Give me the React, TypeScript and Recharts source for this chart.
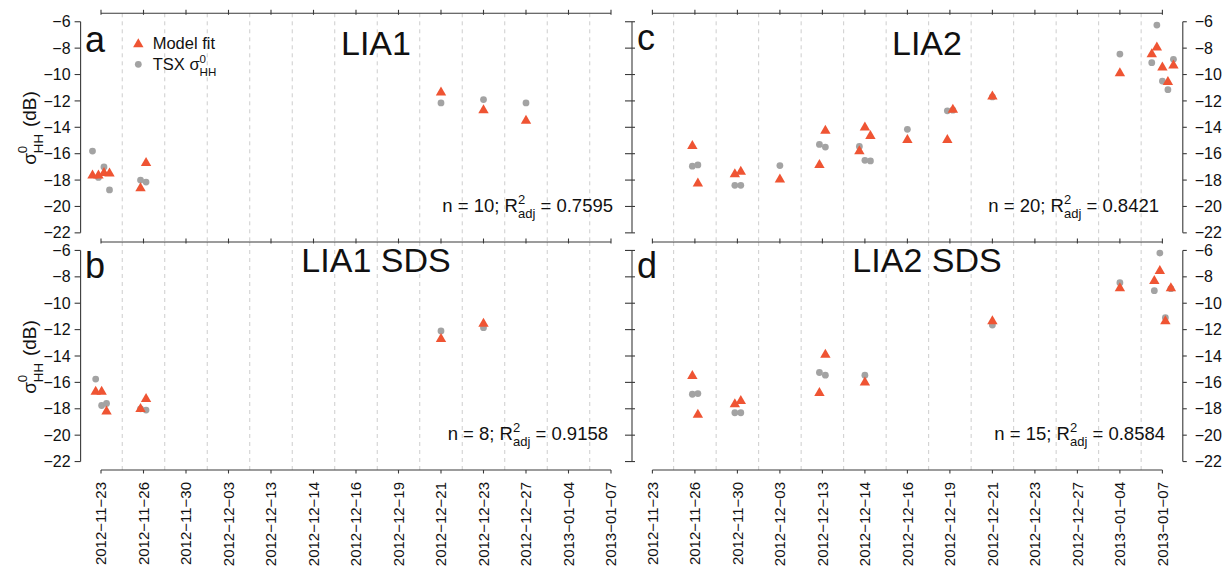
import { ReferenceLine, Scatter, ScatterChart, XAxis, YAxis } from "recharts";

const dates = [
  "2012-11-23",
  "2012-11-26",
  "2012-11-30",
  "2012-12-03",
  "2012-12-13",
  "2012-12-14",
  "2012-12-16",
  "2012-12-19",
  "2012-12-21",
  "2012-12-23",
  "2012-12-27",
  "2013-01-04",
  "2013-01-07",
];
const yTicks = [-6, -8, -10, -12, -14, -16, -18, -20, -22];

// position on the date axis = date index + offset for several scenes on one day
const lia1Pos = [-0.2, -0.06, 0.07, 0.2, 0.93, 1.06, 8, 9, 10];
const lia1Model = [-17.6, -17.6, -17.4, -17.45, -18.55, -16.65, -11.3, -12.65, -13.45];
const lia1Tsx = [-15.8, -17.8, -17.0, -18.75, -18.0, -18.15, -12.15, -11.9, -12.15];

const lia1SdsPos = [-0.125, 0.015, 0.13, 0.93, 1.06, 8, 9];
const lia1SdsModel = [-16.65, -16.65, -18.15, -17.95, -17.2, -12.65, -11.5];
const lia1SdsTsx = [-15.75, -17.75, -17.6, -18.0, -18.1, -12.1, -11.85];

const lia2Pos = [0.94, 1.07, 1.94, 2.08, 3, 3.93, 4.07, 4.87, 5, 5.13, 6, 6.94, 7.07, 8, 11, 11.75, 11.87, 12, 12.13, 12.26];
const lia2Model = [-15.35, -18.2, -17.5, -17.3, -17.9, -16.8, -14.2, -15.75, -13.95, -14.6, -14.9, -14.9, -12.6, -11.6, -9.85, -8.4, -7.9, -9.4, -10.5, -9.25];
const lia2Tsx = [-16.95, -16.85, -18.4, -18.4, -16.9, -15.3, -15.5, -15.45, -16.5, -16.55, -14.15, -12.75, -12.7, -11.7, -8.45, -9.1, -6.25, -10.5, -11.15, -8.85];

const lia2SdsPos = [0.94, 1.07, 1.94, 2.08, 3.93, 4.07, 5, 8, 11, 11.81, 11.94, 12.07, 12.2];
const lia2SdsModel = [-15.45, -18.4, -17.6, -17.35, -16.75, -13.85, -15.95, -11.3, -8.8, -8.25, -7.5, -11.3, -8.8];
const lia2SdsTsx = [-16.9, -16.85, -18.3, -18.3, -15.25, -15.45, -15.45, -11.65, -8.45, -9.05, -6.2, -11.1, -8.9];

const X_MIN = -0.48;
const X_MAX = 12.48;
const Y_MIN = -22.64;
const Y_MAX = -5.36;
const PLOT_W = 550.8;
const PLOT_H = 228;

const FONT = '"Liberation Sans", Arial, Helvetica, sans-serif';
const AXIS = "#3a3a3a";
const RED = "#EF5433";
const GREY = "#A3A3A3";

const dateIdx = dates.map((_, i) => i);
const gridBreaks = dates.slice(1).map((_, i) => i + 0.5);
const minus = (s: string) => s.replace(/-/g, "\u2212");

const Triangle = (p: any) => (
  <polygon
    points={`${p.cx},${p.cy - 5.2} ${p.cx - 5.2},${p.cy + 3.8} ${p.cx + 5.2},${p.cy + 3.8}`}
    fill={RED}
  />
);
const Dot = (p: any) => <circle cx={p.cx} cy={p.cy} r={3.4} fill={GREY} />;
const Nothing = () => <g />;

const topTick = (p: any) => (
  <line x1={p.x} x2={p.x} y1={p.y - 3.5} y2={p.y + 1.5} stroke={AXIS} strokeWidth={1.1} />
);

const bottomTick = (p: any) => (
  <g>
    <line x1={p.x} x2={p.x} y1={p.y} y2={p.y + 3.5} stroke={AXIS} strokeWidth={1.1} />
    <text
      transform={`translate(${p.x},${p.y + 12}) rotate(-90)`}
      textAnchor="end"
      dy="0.35em"
      fontSize={15}
      fontFamily={FONT}
      fill="#111"
    >
      {minus(dates[p.payload.value])}
    </text>
  </g>
);

const leftLabelTick = (p: any) => (
  <g>
    <line x1={p.x - 6} x2={p.x} y1={p.y} y2={p.y} stroke={AXIS} strokeWidth={1.1} />
    <text x={p.x - 10} y={p.y} dy="0.35em" textAnchor="end" fontSize={16} fontFamily={FONT} fill="#111">
      {minus(String(p.payload.value))}
    </text>
  </g>
);

const leftBareTick = (p: any) => (
  <line x1={p.x - 7} x2={p.x + 3} y1={p.y} y2={p.y} stroke={AXIS} strokeWidth={1.1} />
);

const rightTick = (p: any) => (
  <g>
    <line x1={p.x} x2={p.x + 4} y1={p.y} y2={p.y} stroke={AXIS} strokeWidth={1.1} />
    <text x={p.x + 12} y={p.y} dy="0.35em" textAnchor="start" fontSize={16} fontFamily={FONT} fill="#111">
      {minus(String(p.payload.value))}
    </text>
  </g>
);

type PanelProps = {
  col: 0 | 1;
  row: 0 | 1;
  pos: number[];
  model: number[];
  tsx: number[];
};

function Panel({ col, row, pos, model, tsx }: PanelProps) {
  const leftW = col === 0 ? 80.6 : 12;
  const rightW = col === 0 ? 0 : 42.6;
  const topH = row === 0 ? 13.3 : 13;
  const bottomH = row === 0 ? 0 : 98;
  const width = leftW + PLOT_W + rightW;
  const height = topH + PLOT_H + bottomH;
  const left = col === 0 ? 0 : 619.6;
  const top = row === 0 ? 0 : 228.9;

  const modelPts = pos.map((x, i) => ({ x, y: model[i] }));
  const tsxPts = pos.map((x, i) => ({ x, y: tsx[i] }));
  const xFirst = dateIdx[0];
  const xLast = dateIdx[dateIdx.length - 1];
  const axisLine = { stroke: AXIS, strokeWidth: 1.1, ifOverflow: "visible" as const };

  return (
    <div style={{ position: "absolute", left, top, width, height }}>
      <ScatterChart width={width} height={height} margin={{ top: 0, right: 0, bottom: 0, left: 0 }}>
        <XAxis
          xAxisId="t"
          orientation="top"
          type="number"
          dataKey="x"
          domain={[X_MIN, X_MAX]}
          ticks={dateIdx}
          interval={0}
          height={topH}
          axisLine={false}
          tickLine={false}
          tickSize={0}
          tickMargin={0}
          tick={topTick}
        />
        {row === 1 && (
          <XAxis
            xAxisId="b"
            orientation="bottom"
            type="number"
            dataKey="x"
            domain={[X_MIN, X_MAX]}
            ticks={dateIdx}
            interval={0}
            height={bottomH}
            axisLine={false}
            tickLine={false}
            tickSize={0}
            tickMargin={0}
            tick={bottomTick}
          />
        )}
        <YAxis
          yAxisId="l"
          orientation="left"
          type="number"
          dataKey="y"
          domain={[Y_MIN, Y_MAX]}
          ticks={yTicks}
          interval={0}
          width={leftW}
          axisLine={false}
          tickLine={false}
          tickSize={0}
          tickMargin={0}
          tick={col === 0 ? leftLabelTick : leftBareTick}
        />
        {col === 1 && (
          <YAxis
            yAxisId="r"
            orientation="right"
            type="number"
            dataKey="y"
            domain={[Y_MIN, Y_MAX]}
            ticks={yTicks}
            interval={0}
            width={rightW}
            axisLine={false}
            tickLine={false}
            tickSize={0}
            tickMargin={0}
            tick={rightTick}
          />
        )}
        {gridBreaks.map((g) => (
          <ReferenceLine
            key={g}
            xAxisId="t"
            yAxisId="l"
            x={g}
            stroke="#cdcdcd"
            strokeDasharray="4 4"
            strokeWidth={1}
          />
        ))}
        <ReferenceLine
          xAxisId="t"
          yAxisId="l"
          segment={[{ x: xFirst, y: Y_MAX }, { x: xLast, y: Y_MAX }]}
          {...axisLine}
        />
        {row === 1 && (
          <ReferenceLine
            xAxisId="t"
            yAxisId="l"
            segment={[{ x: xFirst, y: Y_MIN }, { x: xLast, y: Y_MIN }]}
            {...axisLine}
          />
        )}
        <ReferenceLine
          xAxisId="t"
          yAxisId="l"
          segment={[{ x: X_MIN, y: yTicks[0] }, { x: X_MIN, y: yTicks[yTicks.length - 1] }]}
          {...axisLine}
        />
        {col === 1 && (
          <ReferenceLine
            xAxisId="t"
            yAxisId="l"
            segment={[{ x: X_MAX, y: yTicks[0] }, { x: X_MAX, y: yTicks[yTicks.length - 1] }]}
            {...axisLine}
          />
        )}
        {/* invisible series so the secondary axes get rendered */}
        <Scatter
          xAxisId={row === 1 ? "b" : "t"}
          yAxisId={col === 1 ? "r" : "l"}
          data={tsxPts}
          shape={Nothing}
          isAnimationActive={false}
        />
        <Scatter xAxisId="t" yAxisId="l" data={tsxPts} shape={Dot} isAnimationActive={false} />
        <Scatter xAxisId="t" yAxisId="l" data={modelPts} shape={Triangle} isAnimationActive={false} />
      </ScatterChart>
    </div>
  );
}

function SigmaHH({ size }: { size: number }) {
  const small = size * 0.7;
  return (
    <>
      <tspan>σ</tspan>
      <tspan dy={-size * 0.45} fontSize={small}>0</tspan>
      <tspan dx={-small * 0.556} dy={size * 0.8} fontSize={small}>HH</tspan>
      <tspan dy={-size * 0.35}>{"\u200A"}</tspan>
    </>
  );
}

function Stats({ x, y, n, r2 }: { x: number; y: number; n: number; r2: string }) {
  const size = 18.5;
  const small = 13;
  return (
    <text x={x} y={y} textAnchor="end" fontSize={size} fontFamily={FONT} fill="#111">
      <tspan>{`n = ${n}; R`}</tspan>
      <tspan dy={-8} fontSize={small}>2</tspan>
      <tspan dx={-small * 0.556} dy={14} fontSize={small}>adj</tspan>
      <tspan dy={-6}>{` = ${r2}`}</tspan>
    </text>
  );
}

function Overlay() {
  const big = { fontSize: 34, fontFamily: FONT, fill: "#111" };
  return (
    <svg
      width={1225}
      height={568}
      style={{ position: "absolute", left: 0, top: 0, pointerEvents: "none" }}
    >
      <text x={85} y={51.5} {...big} fontSize={36}>a</text>
      <text x={85} y={278} {...big} fontSize={36}>b</text>
      <text x={637} y={50} {...big} fontSize={36}>c</text>
      <text x={637} y={278} {...big} fontSize={36}>d</text>

      <text x={376} y={55} textAnchor="middle" {...big}>LIA1</text>
      <text x={376} y={272} textAnchor="middle" {...big}>LIA1 SDS</text>
      <text x={927} y={55} textAnchor="middle" {...big}>LIA2</text>
      <text x={927} y={272} textAnchor="middle" {...big}>LIA2 SDS</text>

      <Stats x={613} y={212} n={10} r2="0.7595" />
      <Stats x={608} y={440} n={8} r2="0.9158" />
      <Stats x={1159} y={212} n={20} r2="0.8421" />
      <Stats x={1165} y={440} n={15} r2="0.8584" />

      {[128, 357].map((cy) => (
        <text
          key={cy}
          transform={`translate(36,${cy}) rotate(-90)`}
          textAnchor="middle"
          fontSize={19}
          fontFamily={FONT}
          fill="#111"
        >
          <SigmaHH size={19} />
          <tspan> (dB)</tspan>
        </text>
      ))}

      <polygon points="138.3,38.3 133.1,47.3 143.5,47.3" fill={RED} />
      <text x={152.7} y={49} fontSize={16.5} fontFamily={FONT} fill="#111">Model fit</text>
      <circle cx={138.3} cy={64.3} r={3.4} fill={GREY} />
      <text x={152.7} y={70} fontSize={16.5} fontFamily={FONT} fill="#111">
        <tspan>TSX </tspan>
        <SigmaHH size={16.5} />
      </text>
    </svg>
  );
}

export default function App() {
  return (
    <div style={{ position: "absolute", left: 0, top: 0, width: 1225, height: 568, background: "#fff" }}>
      <Panel col={0} row={0} pos={lia1Pos} model={lia1Model} tsx={lia1Tsx} />
      <Panel col={0} row={1} pos={lia1SdsPos} model={lia1SdsModel} tsx={lia1SdsTsx} />
      <Panel col={1} row={0} pos={lia2Pos} model={lia2Model} tsx={lia2Tsx} />
      <Panel col={1} row={1} pos={lia2SdsPos} model={lia2SdsModel} tsx={lia2SdsTsx} />
      <Overlay />
    </div>
  );
}
